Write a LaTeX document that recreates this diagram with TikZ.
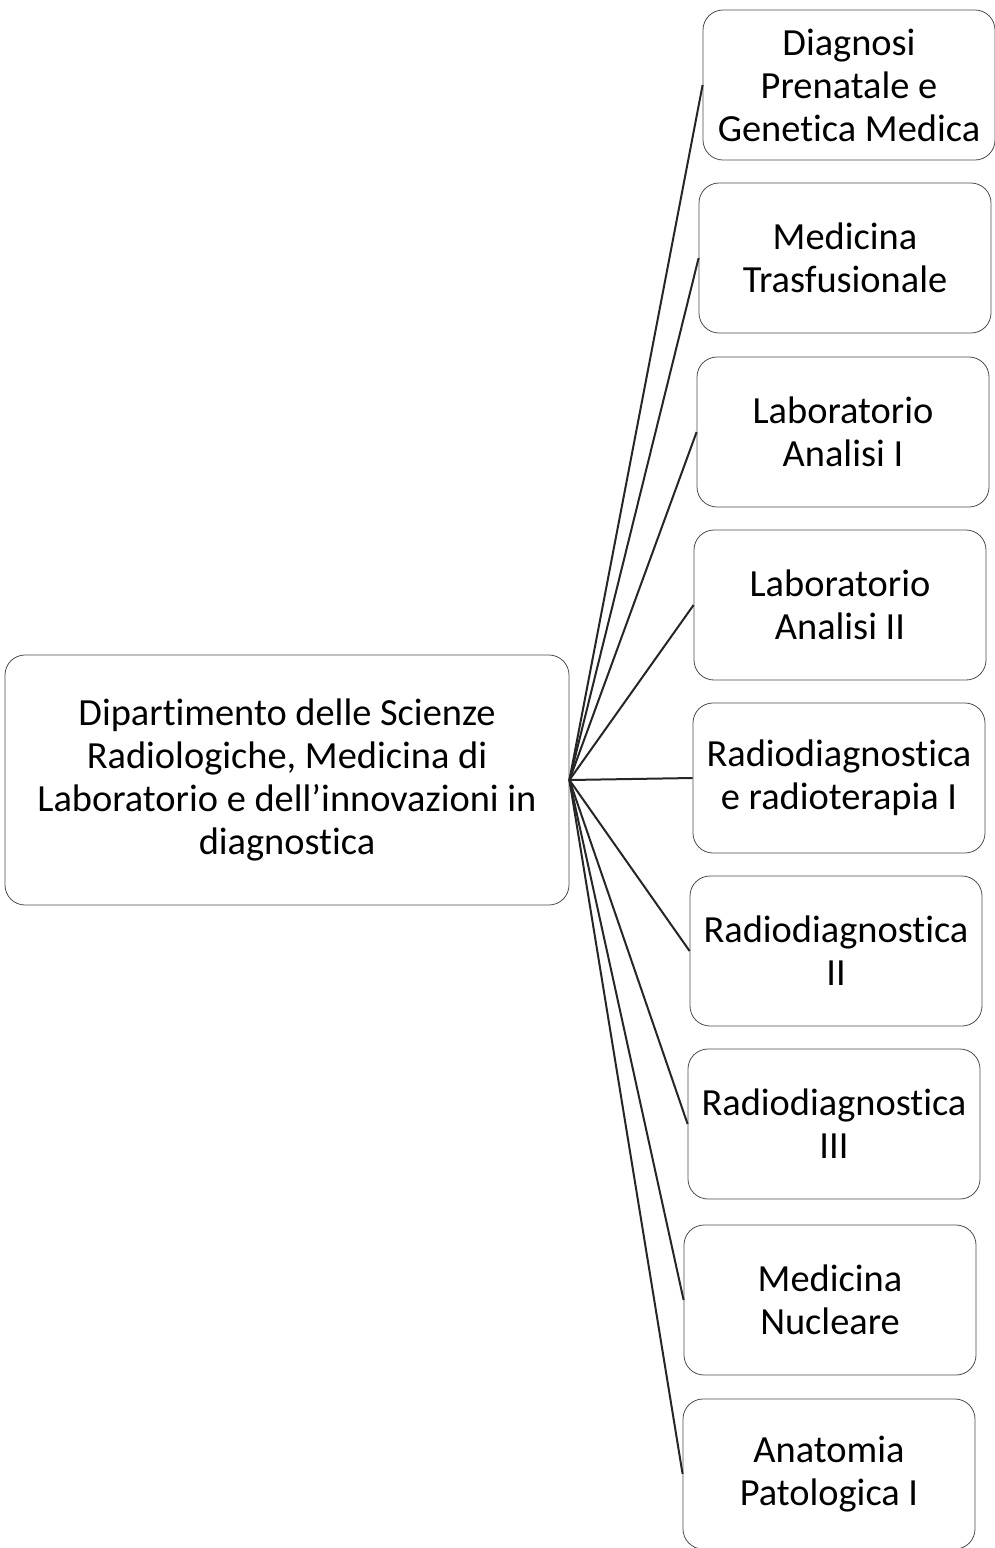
\documentclass[tikz,border=0pt]{standalone}
\usepackage{fontspec}
\setmainfont{Carlito}[Ligatures=CommonOff]
\usetikzlibrary{positioning}

\begin{document}
\begin{tikzpicture}[x=0.5pt, y=-0.5pt,
    unitbox/.style={draw=black!70, rounded corners=10pt, align=center,
      minimum width=146pt, minimum height=75pt, inner sep=0pt,
      font=\fontsize{19.2}{21.5}\selectfont},
    deptbox/.style={unitbox, minimum width=282pt, minimum height=125pt},
    link/.style={line width=1pt, black!85}]
    \useasboundingbox (0,0) rectangle (995,1548);

    % department
    \node[deptbox] (dip) at (287,780)
      {Dipartimento delle Scienze\\Radiologiche, Medicina di\\Laboratorio e dell’innovazioni in\\diagnostica};

    % units and links
    \foreach \i/\x/\y/\t in {
        1/849/85/{Diagnosi\\Prenatale e\\Genetica Medica},
        2/845/258/{Medicina\\Trasfusionale},
        3/843/432/{Laboratorio\\Analisi I},
        4/840/605/{Laboratorio\\Analisi II},
        5/839/778/{Radiodiagnostica\\e radioterapia I},
        6/836/951/{Radiodiagnostica\\II},
        7/834/1124/{Radiodiagnostica\\III},
        8/830/1300/{Medicina\\Nucleare},
        9/829/1474/{Anatomia\\Patologica I}} {
      \node[unitbox] (u\i) at (\x,\y) {\t};
      \draw[link] (dip.east) -- (u\i.west);
    }
\end{tikzpicture}
\end{document}
